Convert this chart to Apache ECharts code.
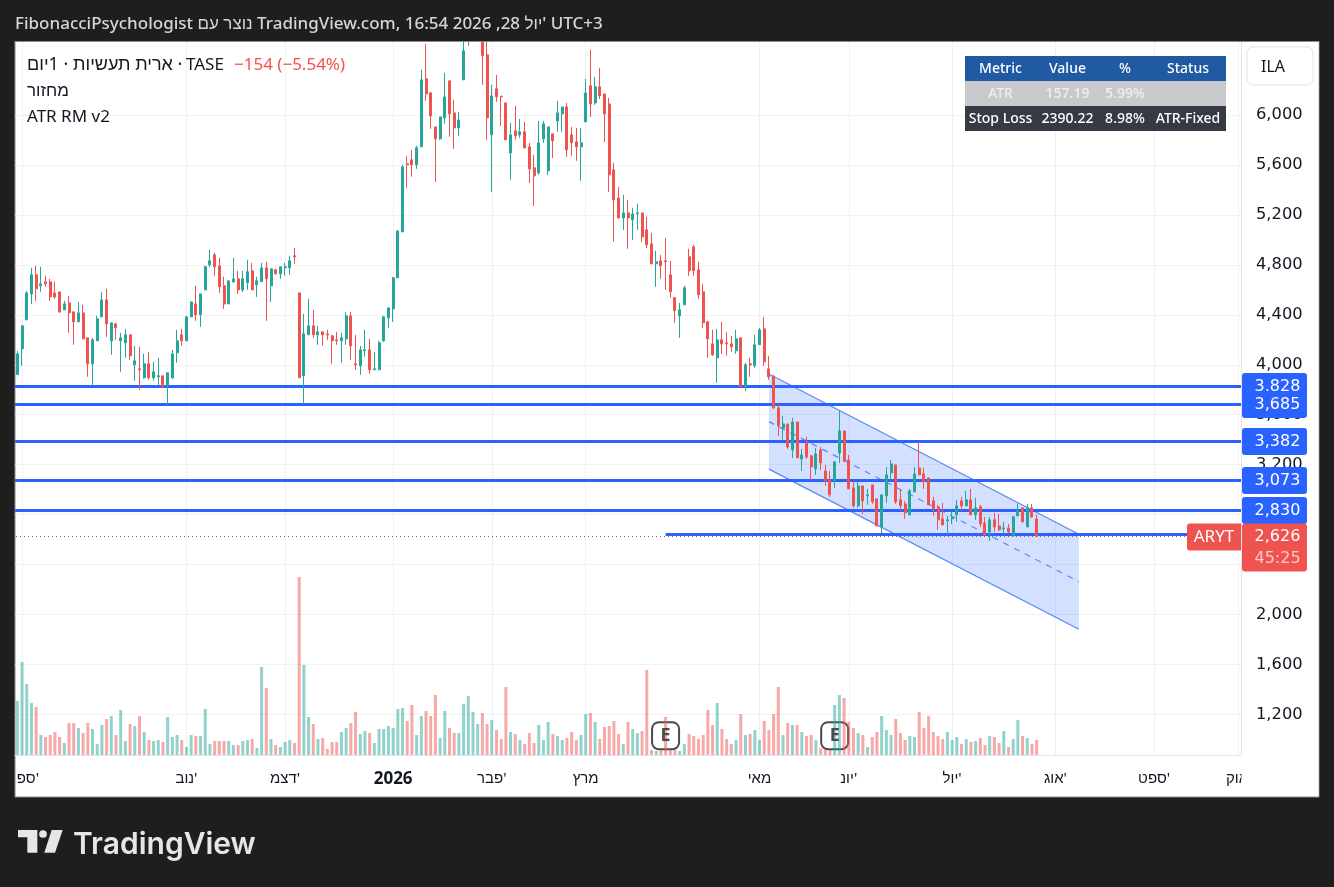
<!DOCTYPE html>
<html><head><meta charset="utf-8">
<style>html,body{margin:0;padding:0;background:#1e1e1e}#c{width:1334px;height:887px}</style>
<script src="https://cdn.jsdelivr.net/npm/echarts@6/dist/echarts.min.js"></script>
</head><body><div id="c"></div>
<script>
const highs=[4099,4310,4582,4767,4783,4775,4703,4679,4655,4574,
4502,4542,4414,4494,4470,4206,4206,4382,4574,4598,
4326,4326,4246,4278,4230,4142,4134,4078,4094,4014,
4046,3902,3926,4110,4270,4278,4382,4494,4623,4558,
4783,4911,4887,4847,4695,4663,4847,4743,4743,4831,
4807,4695,4807,4815,4759,4759,4775,4807,4863,4927,
4566,4398,4518,4430,4302,4254,4270,4230,4254,4246,
4414,4414,4230,4142,4270,4198,4094,4182,4382,4446,
4695,5063,5592,5664,5712,5744,6353,6561,6176,5896,
5976,6329,6265,6112,6016,6673,6800,6800,6830,6780,
6640,6233,6313,6142,6088,5928,6064,5960,5936,5768,
5672,5944,5944,5896,5840,6104,6056,6088,5896,5888,
5888,6281,6513,6297,6369,6160,6128,5608,5416,5352,
5312,5248,5280,5207,5175,5047,4903,4871,5007,4823,
4535,4487,4623,4919,4951,4815,4639,4342,4270,4278,
4334,4254,4222,4270,4206,4006,4046,4230,4286,4374,
4062,3901,3677,3581,3516,3565,3532,3316,3412,3268,
3324,3332,3188,3140,3220,3621,3460,3268,3060,3052,
3020,2996,3028,2916,2948,3172,3228,3188,2996,2900,
2996,3172,3372,3164,3084,2932,2868,2884,2780,2820,
2908,2932,2980,2996,2924,2868,2772,2772,2804,2796,
2731,2715,2780,2876,2844,2876,2876,2788];
const bodyTops=[4078,4302,4566,4711,4711,4639,4655,4655,4566,4574,
4478,4486,4414,4406,4406,4206,4190,4358,4510,4510,
4326,4318,4206,4230,4230,4022,3958,3998,3998,3934,
3902,3902,3926,4078,4182,4230,4374,4494,4478,4558,
4775,4823,4871,4783,4623,4663,4679,4679,4679,4735,
4743,4663,4767,4767,4759,4751,4775,4775,4823,4863,
4566,4238,4302,4302,4254,4254,4238,4222,4190,4206,
4382,4382,3998,4110,4110,4110,3958,4166,4374,4446,
4687,5063,5576,5600,5632,5728,6273,6281,6168,5896,
5976,6136,6265,6008,5952,6505,6680,6750,6790,6700,
6473,6144,6201,6142,6088,5832,5864,5856,5856,5736,
5568,5768,5920,5896,5840,6008,6056,6056,5832,5776,
5768,6168,6225,6217,6217,6160,6080,5552,5327,5207,
5207,5199,5207,5207,5071,4959,4815,4823,4823,4711,
4527,4431,4607,4855,4935,4751,4575,4334,4158,4190,
4190,4166,4158,4198,4206,3990,3998,4150,4270,4278,
3958,3901,3645,3516,3516,3532,3532,3268,3372,3260,
3276,3308,3140,3068,3212,3460,3460,3228,3004,3020,
3020,2948,3028,2916,2948,3108,3196,3188,2908,2876,
2980,3116,3164,3116,3084,2900,2852,2756,2748,2764,
2860,2900,2908,2908,2844,2852,2723,2748,2748,2699,
2683,2683,2772,2820,2844,2844,2844,2755];
const bodyBottoms=[3912,4118,4350,4558,4599,4623,4639,4534,4534,4414,
4430,4406,4334,4334,4198,3998,3998,4182,4374,4318,
4182,4286,4182,4166,4062,3990,3950,3886,3886,3886,
3894,3814,3822,3886,4086,4182,4182,4374,4390,4390,
4590,4791,4775,4615,4478,4478,4655,4590,4590,4647,
4590,4631,4655,4679,4623,4719,4719,4767,4767,4855,
3886,3902,4230,4230,4230,4230,4230,4182,4182,4182,
4198,4142,3990,3982,4102,3950,3950,3950,4182,4366,
4438,4687,5055,5592,5592,5592,5736,6160,5984,5800,
5800,5968,6000,5888,5888,6273,6620,6640,6700,6465,
5968,5832,6137,6137,5792,5688,5824,5832,5728,5560,
5504,5528,5800,5544,5784,5944,6000,5712,5768,5736,
5736,5936,6080,6088,6144,6000,5512,5311,5167,5167,
5167,5151,5199,5015,4951,4799,4799,4783,4815,4575,
4423,4383,4471,4743,4743,4551,4326,4198,4070,4046,
4158,4158,4134,4102,3814,3814,3990,3982,4150,4014,
3894,3645,3500,3484,3332,3308,3244,3236,3252,3172,
3156,3204,3060,2948,3060,3284,3220,2996,2860,2860,
2900,2940,2892,2699,2691,2940,3124,2892,2860,2804,
2788,2972,3108,3052,2868,2836,2748,2707,2740,2756,
2788,2860,2860,2788,2788,2715,2627,2651,2691,2667,
2675,2651,2619,2780,2731,2691,2772,2616];
const lows=[3912,3982,4350,4478,4502,4574,4615,4502,4518,4406,
4430,4246,4150,4334,4198,3894,3822,4182,4374,4214,
4070,4190,3934,4046,4030,3862,3790,3878,3870,3862,
3822,3806,3669,3878,4006,4142,4182,4374,4342,4294,
4590,4775,4703,4566,4438,4478,4647,4558,4574,4590,
4590,4534,4655,4342,4494,4711,4679,4703,4711,4799,
3886,3677,4230,4206,4150,4142,4190,3998,4150,4006,
4150,4030,3950,3910,4054,3918,3950,3950,4174,4286,
4334,4687,5055,5408,5496,5560,5736,6104,5880,5456,
5792,5920,5816,5720,5824,6273,6545,6600,6640,6233,
5792,5375,6096,5904,5792,5472,5792,5808,5720,5448,
5263,5512,5768,5512,5648,5856,5856,5656,5664,5624,
5464,5936,5976,6072,6120,5776,5375,4975,5159,5071,
4919,4991,5071,4975,4927,4799,4615,4679,4591,4527,
4326,4206,4471,4703,4703,4519,4286,4046,4062,3846,
4078,4062,4094,4078,3814,3782,3894,3966,4150,3982,
3870,3637,3420,3388,3316,3244,3244,3140,3236,3060,
3108,3148,3020,2932,3004,3204,3212,2996,2844,2844,
2796,2868,2876,2699,2643,2884,3060,2876,2820,2756,
2788,2972,3108,2996,2868,2780,2667,2707,2627,2715,
2731,2820,2860,2788,2748,2691,2627,2579,2651,2659,
2635,2643,2619,2780,2731,2691,2764,2612];
const directions=('gggg rgrrrr grrgrrgggr grggrgrgrg grgggrggrg ggrrrggrgg rggrgrgggr rggrgrrrrg grrggrgggg gggrrggrrr ggrrgggggr rgrrrgrgrr rgggrggrrr ggrgrrrrrg rggrrrgrrr rggrrrrrrg rrrgrgrggr rrrgrgrgrr grrrggrrrg rgrrgggrrr ggrrrrrrgg grgrgrrgrr grggrgrr').replace(/ /g,'').split('');
const readingCalibration=10;
const volumes=[162,279,213,156,144,60,54,60,69,54,
36,96,96,81,66,96,78,33,90,108,
117,60,135,42,93,87,117,69,45,42,
45,39,114,54,60,45,24,60,57,57,
138,33,42,42,42,42,30,30,42,45,
48,21,264,201,48,30,24,39,45,36,
534,270,114,93,48,51,18,39,39,69,
81,96,129,63,72,66,36,78,78,87,
81,138,141,102,150,60,117,132,117,180,
51,132,81,66,66,153,177,129,93,126,
93,105,75,48,204,69,63,45,33,66,
36,90,45,99,63,57,45,51,69,45,
60,123,126,99,48,84,87,102,63,33,
99,78,66,72,255,15,12,15,114,15,
15,12,33,63,57,48,60,135,90,156,
78,48,33,45,123,60,63,75,45,102,
75,123,204,60,96,90,90,69,57,60,
45,20,15,15,150,180,171,100,81,66,
60,24,54,69,117,75,60,108,66,45,
57,54,129,81,117,69,57,48,69,45,
54,33,48,39,42,51,30,57,54,36,
72,24,48,105,57,51,33,45];
const volumeAxisMax=2139;
const slotCount=261;
const monthSlots=[1,36,57,80,101,121,158,177,199,221,242,260];
const monthLabels=["\u00A0\u00A0\u00A0ספ'","נוב'","דצמ'","2026","פבר'","מרץ","מאי","יונ'","יול'","אוג'","ספט'","אוק'"];
const priceTicks=[1200,1600,2000,2400,2800,3200,3600,4000,4400,4800,5200,5600,6000];
const priceMin=874, priceMax=6586;
const levelValues=[3828,3685,3382,3073,2830];
const lastPrice=2626;
const lastPriceTimer='45:25';
const supportLevel=2643;
const supportStartSlot=137.5;
const channelSlots=[160,226];
const channelUpper=[3927,2642];
const channelMiddle=[3545,2262];
const channelLower=[3164,1882];
const earningsSlots=[138,174];
const tableRows=[['Metric','Value','%','Status'],['ATR','157.19','5.99%',''],['Stop Loss','2390.22','8.98%','ATR-Fixed']];

const FONT='"Noto Sans","Liberation Sans",sans-serif';
const AXFONT='"DejaVu Sans",sans-serif';
const UP='#26a69a',DOWN='#ef5350',BLUE='#2962ff';
const cats=Array(slotCount).fill('');
monthSlots.forEach((s,i)=>{cats[s]=monthLabels[i];});
const cal=v=>v+readingCalibration;
const candle=directions.map((d,i)=>d==='g'?[cal(bodyBottoms[i]),cal(bodyTops[i]),cal(lows[i]),cal(highs[i])]:[cal(bodyTops[i]),cal(bodyBottoms[i]),cal(lows[i]),cal(highs[i])]);
const fmt=v=>String(v).replace(/(\d)(\d{3})$/,'$1,$2');

const chart=echarts.init(document.getElementById('c'),null,{width:1334,height:887,renderer:'canvas'});

function text(x,y,t,o){return Object.assign({type:'text',x,y,z:30,style:Object.assign({text:t,fill:'#131722',font:'17px '+FONT,textAlign:'left',textVerticalAlign:'middle'},o||{})});}
const tableX=965,tableW=261,rowH=25,colC=[1000.5,1067.5,1125,1188];
const rowFill=['#1f5aa3','#c8c9cc','#363a45'];
const gfx=[
 {type:'rect',shape:{x:15,y:41,width:1304,height:756},style:{fill:'#ffffff',stroke:'#8a8a8a',lineWidth:1},z:0},
 {type:'rect',shape:{x:1241.5,y:42,width:77,height:754},style:{fill:'#ffffff'},z:2},
 {type:'rect',shape:{x:0,y:0,width:1334,height:41},style:{fill:'#1e1e1e'},z:20},
 {type:'line',shape:{x1:15,y1:41.5,x2:1319,y2:41.5},style:{stroke:'#8a8a8a',lineWidth:1},z:20},
 {type:'rect',shape:{x:1247,y:47,width:66,height:38,r:6},style:{fill:'#fff',stroke:'#e0e3eb',lineWidth:1},z:30},
 text(1273,67,'ILA',{textAlign:'center',font:'16px '+FONT}),
 text(15,24,"FibonacciPsychologist נוצר עם TradingView.com, 16:54 2026 ,28 יול' UTC+3",{fill:'#d6d6d6',font:'500 17px '+FONT}),
 text(27,65,"יום\u200E1\u200E · ארית תעשיות\u200E ·",{font:'18px '+FONT}),
 text(186,65,"TASE",{}),
 text(234,65,"−154 (−5.54%)",{fill:DOWN}),
 text(27,91,"מחזור",{}),
 text(27,117,"ATR RM v2",{})
];
tableRows.forEach((r,ri)=>{
 gfx.push({type:'rect',shape:{x:tableX,y:56+ri*rowH,width:tableW,height:rowH},style:{fill:rowFill[ri]},z:29});
 r.forEach((t,ci)=>{if(t)gfx.push(text(colC[ci],69.5+ri*rowH,t,{textAlign:'center',fill:ri===1?'#f0f0f0':'#ffffff',font:'500 14px '+FONT}));});
});
const lx=z=>10+z/3, ly=z=>820+z/3;
gfx.push({type:'polygon',shape:{points:[[lx(24),ly(30)],[lx(82),ly(30)],[lx(82),ly(98)],[lx(52),ly(98)],[lx(52),ly(52)],[lx(24),ly(52)]]},style:{fill:'#e6e6e6'},z:30});
gfx.push({type:'circle',shape:{cx:lx(99),cy:ly(42),r:11/3*1.05},style:{fill:'#e6e6e6'},z:30});
gfx.push({type:'polygon',shape:{points:[[lx(125),ly(30)],[lx(158),ly(30)],[lx(135),ly(98)],[lx(103),ly(98)]]},style:{fill:'#e6e6e6'},z:30});
gfx.push(text(73,845,'TradingView',{fill:'#e6e6e6',font:'600 30px Inter,'+FONT}));

function levelItem(params,api){
 const v=api.value(0),y=Math.floor(api.coord([0,v])[1])+.5,cs=params.coordSys,xr=cs.x+cs.width;
 return {type:'group',children:[
  {type:'line',shape:{x1:cs.x,y1:y,x2:xr,y2:y},style:{stroke:BLUE,lineWidth:3}},
  {type:'rect',shape:{x:1242,y:y-13.5,width:65,height:27,r:3},style:{fill:BLUE}},
  {type:'text',x:1277.5,y:y+.5,style:{text:fmt(v),fill:'#fff',font:'16px '+AXFONT,textAlign:'center',textVerticalAlign:'middle'}}
 ]};
}
const option={
 backgroundColor:'#1e1e1e',animation:false,
 graphic:{elements:gfx},
 grid:{left:15,top:42,width:1226,height:713,containLabel:false},
 xAxis:{type:'category',data:cats,z:1,boundaryGap:true,
  axisLine:{show:true,lineStyle:{color:'#e0e3eb'}},axisTick:{show:false,alignWithLabel:true},
  axisLabel:{interval:(i,v)=>v!=='',margin:16,color:'#131722',fontFamily:FONT,fontSize:15,hideOverlap:false,
   formatter:v=>v==='2026'?'{b|2026}':v,rich:{b:{fontWeight:'bold',fontSize:17,fontFamily:FONT,color:'#131722'}}},
  splitLine:{show:true,alignWithLabel:true,interval:(i,v)=>v!=='',lineStyle:{color:'#f0f0f2',width:1}}},
 yAxis:[
  {type:'value',position:'right',min:priceMin,max:priceMax,z:3,
   axisLine:{show:true,lineStyle:{color:'#e0e3eb'}},axisTick:{show:false,customValues:priceTicks},
   axisLabel:{customValues:priceTicks,formatter:fmt,color:'#131722',fontFamily:AXFONT,fontSize:16.3,margin:15,padding:[2,0,0,0],showMinLabel:true,showMaxLabel:true},
   splitLine:{show:true,lineStyle:{color:'#f2f2f4',width:1}}},
  {type:'value',position:'right',min:0,max:volumeAxisMax,show:false,splitLine:{show:false}}
 ],
 series:[
  {type:'custom',name:'channel',z:4,coordinateSystem:'cartesian2d',silent:true,
   data:channelSlots.map((s,i)=>[s,channelUpper[i],channelMiddle[i],channelLower[i]]),
   renderItem(p,api){
    if(p.dataIndex!==0)return null;
    const c=(s,v)=>api.coord([s,v]);
    const a=channelSlots[0],b=channelSlots[1];
    const lineSt={stroke:'#5b86fb',lineWidth:1.2};
    return {type:'group',children:[
     {type:'polygon',shape:{points:[c(a,channelUpper[0]),c(b,channelUpper[1]),c(b,channelLower[1]),c(a,channelLower[0])]},style:{fill:'rgba(41,98,255,0.2)'}},
     {type:'line',shape:{x1:c(a,channelUpper[0])[0],y1:c(a,channelUpper[0])[1],x2:c(b,channelUpper[1])[0],y2:c(b,channelUpper[1])[1]},style:lineSt},
     {type:'line',shape:{x1:c(a,channelLower[0])[0],y1:c(a,channelLower[0])[1],x2:c(b,channelLower[1])[0],y2:c(b,channelLower[1])[1]},style:lineSt},
     {type:'line',shape:{x1:c(a,channelMiddle[0])[0],y1:c(a,channelMiddle[0])[1],x2:c(b,channelMiddle[1])[0],y2:c(b,channelMiddle[1])[1]},style:Object.assign({lineDash:[6,6]},lineSt)}
    ]};
   }},
  {type:'custom',name:'levels',z:4,coordinateSystem:'cartesian2d',silent:true,data:levelValues.map(v=>[v]),encode:{y:0},renderItem:levelItem},
  {type:'custom',name:'support',z:4,coordinateSystem:'cartesian2d',silent:true,data:[[supportStartSlot,supportLevel]],
   renderItem(p,api){const s=api.coord([api.value(0),api.value(1)]);const cs=p.coordSys;const y=Math.floor(s[1])+.5;
    return {type:'line',shape:{x1:s[0],y1:y,x2:cs.x+cs.width,y2:y},style:{stroke:BLUE,lineWidth:3}};}},
  {type:'bar',name:'volume',yAxisIndex:1,z:5,barWidth:3,data:volumes,silent:true,
   itemStyle:{color:p=>directions[p.dataIndex]==='g'?'rgba(38,166,154,0.5)':'rgba(239,83,80,0.5)'},
   markPoint:{silent:true,symbol:'roundRect',symbolSize:[27,27],
    itemStyle:{color:'#ffffff',borderColor:'#4a4a4a',borderWidth:2},
    label:{show:true,position:'inside',formatter:'E',color:'#4a4a4a',fontFamily:FONT,fontWeight:'bold',fontSize:18},
    data:earningsSlots.map(s=>({xAxis:s,yAxis:58}))}},
  {type:'candlestick',name:'ARYT',z:6,barWidth:2.5,data:candle,silent:true,
   itemStyle:{color:UP,color0:DOWN,borderColor:UP,borderColor0:DOWN,borderWidth:1}},
  {type:'custom',name:'last',z:7,coordinateSystem:'cartesian2d',silent:true,data:[[lastPrice]],encode:{y:0},
   renderItem(p,api){
    const v=api.value(0),y=Math.floor(api.coord([0,v])[1])+.5,cs=p.coordSys;
    return {type:'group',children:[
     {type:'line',shape:{x1:cs.x+1,y1:y,x2:1187,y2:y},style:{stroke:'#c8474a',lineWidth:1,lineDash:[1,3]}},
     {type:'rect',shape:{x:1187,y:y-13,width:54,height:27,r:[3,0,0,3]},style:{fill:DOWN}},
     {type:'text',x:1214,y:y+1,style:{text:'ARYT',fill:'#fff',font:'17px '+FONT,textAlign:'center',textVerticalAlign:'middle'}},
     {type:'rect',shape:{x:1242,y:y-13,width:65,height:48,r:3},style:{fill:DOWN}},
     {type:'text',x:1277.5,y:y+.5,style:{text:fmt(v),fill:'#fff',font:'16px '+AXFONT,textAlign:'center',textVerticalAlign:'middle'}},
     {type:'text',x:1277.5,y:y+22,style:{text:lastPriceTimer,fill:'#fbc9c7',font:'16px '+AXFONT,textAlign:'center',textVerticalAlign:'middle'}}
    ]};
   }}
 ]
};
chart.setOption(option);
</script></body></html>
